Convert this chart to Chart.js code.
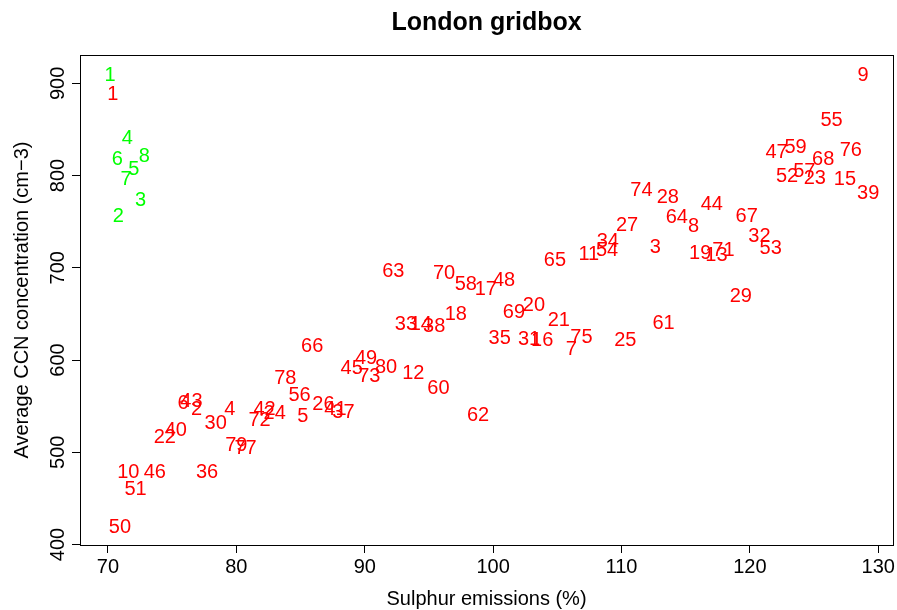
<!DOCTYPE html>
<html>
<head>
<meta charset="utf-8">
<script src="https://cdn.jsdelivr.net/npm/chart.js@4/dist/chart.umd.min.js"></script>
<style>
html,body{margin:0;padding:0;background:#ffffff;}
canvas{display:block;}
</style>
</head>
<body>
<canvas id="c" width="897" height="610"></canvas>
<script>
// ---- chart text ----
const chartTitle = "London gridbox";
const xAxisTitle = "Sulphur emissions (%)";
const yAxisTitle = "Average CCN concentration (cm\u22123)";

// ---- tick labels ----
const xTickValues = [70, 80, 90, 100, 110, 120, 130];
const yTickValues = [400, 500, 600, 700, 800, 900];

// ---- green series (labels 1..8) ----
const greenLabels = ["1","2","3","4","5","6","7","8"];
const greenX = [70.16, 70.80, 72.54, 71.50, 72.02, 70.72, 71.40, 72.82];
const greenY = [910.8, 757.2, 775.3, 842.1, 808.5, 818.7, 797.0, 822.3];

// ---- red series (labels 1..80) ----
const redLabels = Array.from({length: 80}, (_, i) => String(i + 1));
const redX = [
  70.37, 76.89, 112.63, 79.48, 85.18, 75.85, 106.08, 115.61, 128.82, 71.58,
  107.45, 93.78, 117.39, 94.37, 127.40, 103.82, 99.43, 97.09, 116.13, 103.18,
  105.12, 74.43, 125.06, 82.98, 110.30, 86.78, 110.43, 113.61, 119.29, 78.39,
  102.80, 120.74, 93.21, 108.93, 100.51, 77.72, 88.34, 95.41, 129.21, 75.28,
  87.72, 82.20, 76.50, 117.03, 88.98, 73.65, 122.08, 100.85, 90.10, 70.93,
  72.15, 122.89, 121.62, 108.87, 126.36, 84.92, 124.24, 97.87, 123.56, 95.74,
  113.28, 98.83, 92.22, 114.31, 104.81, 85.91, 119.75, 125.71, 101.62, 96.18,
  117.94, 81.81, 90.36, 111.55, 106.88, 127.86, 80.72, 83.81, 80.00, 91.66
];
const redY = [
  889.8, 548.7, 723.9, 548.7, 540.4, 554.8, 612.7, 746.4, 910.8, 480.0,
  716.3, 586.7, 714.9, 639.8, 797.0, 623.5, 677.8, 650.7, 717.1, 660.4,
  644.5, 517.6, 798.7, 544.0, 622.8, 553.7, 747.5, 777.8, 670.5, 533.1,
  624.6, 735.5, 639.8, 730.1, 625.3, 480.0, 545.1, 638.0, 782.5, 524.9,
  548.3, 547.7, 556.7, 769.9, 592.8, 480.0, 826.9, 687.5, 603.0, 420.0,
  462.0, 800.6, 722.2, 721.1, 861.0, 563.9, 806.3, 683.2, 832.0, 571.1,
  641.2, 542.2, 697.6, 756.1, 709.2, 616.3, 757.2, 818.7, 653.1, 695.8,
  720.4, 536.8, 583.8, 785.1, 626.0, 829.5, 505.4, 581.3, 509.0, 593.5
];

const FONT = "'Liberation Sans', Arial, Helvetica, sans-serif";
const LABEL_SIZE = 20;

function toPoints(xs, ys) { return xs.map((x, i) => ({x: x, y: ys[i]})); }

const textLabelPlugin = {
  id: 'textLabels',
  afterDatasetsDraw(chart) {
    const ctx = chart.ctx;
    chart.data.datasets.forEach((ds, i) => {
      const meta = chart.getDatasetMeta(i);
      ctx.save();
      ctx.fillStyle = ds.textColor;
      ctx.font = LABEL_SIZE + 'px ' + FONT;
      ctx.textAlign = 'center';
      ctx.textBaseline = 'alphabetic';
      meta.data.forEach((pt, j) => {
        ctx.fillText(ds.pointLabels[j], pt.x, pt.y + LABEL_SIZE * 0.358);
      });
      ctx.restore();
    });
  }
};

const framePlugin = {
  id: 'frame',
  afterDraw(chart) {
    const ctx = chart.ctx;
    const ca = chart.chartArea;
    ctx.save();
    ctx.strokeStyle = '#000';
    ctx.lineWidth = 1;
    ctx.strokeRect(Math.round(ca.left) + 0.5, Math.round(ca.top) + 0.5,
                   Math.round(ca.right - ca.left), Math.round(ca.bottom - ca.top));
    // rotated y tick labels
    const ys = chart.scales.y;
    ctx.fillStyle = '#000';
    ctx.font = LABEL_SIZE + 'px ' + FONT;
    ctx.textAlign = 'center';
    ctx.textBaseline = 'alphabetic';
    yTickValues.forEach(v => {
      const py = ys.getPixelForValue(v);
      ctx.save();
      ctx.translate(57, py);
      ctx.rotate(-Math.PI / 2);
      ctx.fillText(String(v), 0, LABEL_SIZE * 0.358);
      ctx.restore();
    });
    // title
    ctx.font = 'bold 25px ' + FONT;
    ctx.textAlign = 'center';
    ctx.fillText(chartTitle, (ca.left + ca.right) / 2, 30);
    ctx.restore();
  }
};

new Chart(document.getElementById('c'), {
  type: 'scatter',
  data: {
    datasets: [
      {
        label: 'red',
        data: toPoints(redX, redY),
        pointLabels: redLabels,
        textColor: '#ff0000',
        pointRadius: 0,
        pointHoverRadius: 0,
        showLine: false
      },
      {
        label: 'green',
        data: toPoints(greenX, greenY),
        pointLabels: greenLabels,
        textColor: '#00ff00',
        pointRadius: 0,
        pointHoverRadius: 0,
        showLine: false
      }
    ]
  },
  options: {
    responsive: false,
    animation: false,
    devicePixelRatio: 1,
    layout: { padding: { top: 55, right: 2, left: 0, bottom: 0 } },
    plugins: {
      legend: { display: false },
      tooltip: { enabled: false },
      title: { display: false }
    },
    scales: {
      x: {
        type: 'linear',
        min: 67.82,
        max: 131.15,
        afterBuildTicks: axis => { axis.ticks = xTickValues.map(v => ({value: v})); },
        afterFit: scale => { scale.height = 65; },
        ticks: {
          color: '#000',
          font: { family: FONT, size: LABEL_SIZE },
          padding: 2,
          maxRotation: 0,
          autoSkip: false
        },
        grid: {
          drawOnChartArea: false,
          drawTicks: true,
          tickLength: 8,
          color: '#000',
          lineWidth: 1
        },
        border: { display: true, color: '#000', width: 1 },
        title: {
          display: true,
          text: xAxisTitle,
          color: '#000',
          font: { family: FONT, size: LABEL_SIZE, lineHeight: 1.1 },
          padding: { top: 0, bottom: 0 }
        }
      },
      y: {
        type: 'linear',
        min: 399.5,
        max: 930.7,
        afterBuildTicks: axis => { axis.ticks = yTickValues.map(v => ({value: v})); },
        afterFit: scale => { scale.width = 80; },
        ticks: { display: false },
        grid: {
          drawOnChartArea: false,
          drawTicks: true,
          tickLength: 8,
          color: '#000',
          lineWidth: 1
        },
        border: { display: true, color: '#000', width: 1 },
        title: {
          display: true,
          text: yAxisTitle,
          color: '#000',
          font: { family: FONT, size: LABEL_SIZE, lineHeight: 1.1 },
          padding: { top: 11, bottom: 0 }
        }
      }
    }
  },
  plugins: [textLabelPlugin, framePlugin]
});
</script>
</body>
</html>
